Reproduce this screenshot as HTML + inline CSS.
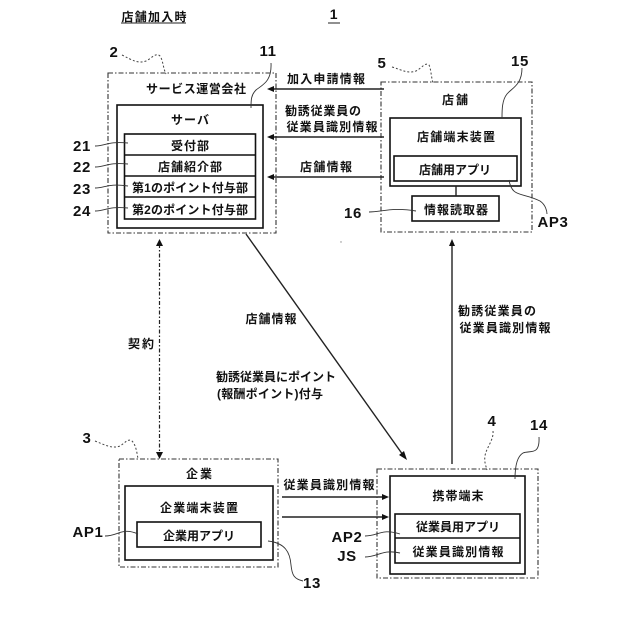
<!DOCTYPE html>
<html><head><meta charset="utf-8">
<style>
html,body{margin:0;padding:0;background:#fff}
svg{display:block}
text{font-family:"Liberation Sans","Noto Sans CJK JP",sans-serif;fill:#111}
.j{font-size:12px;font-weight:700;text-anchor:middle}
.n{font-size:15px;font-weight:700;text-anchor:middle;font-family:"Liberation Sans",sans-serif;letter-spacing:.6px}
.b{fill:none;stroke:#111;stroke-width:1.6}
.d{fill:none;stroke:#333;stroke-width:1.1;stroke-dasharray:5 2 1.5 2}
.l{fill:none;stroke:#222;stroke-width:1.4}
.c{fill:none;stroke:#333;stroke-width:.9}
.q{fill:none;stroke:#444;stroke-width:1;stroke-dasharray:2 2}
.h{fill:#111;stroke:none}
</style></head><body>
<svg width="640" height="640" viewBox="0 0 640 640" xmlns="http://www.w3.org/2000/svg">
<rect width="640" height="640" fill="#fff"/>
<text class="j" x="154" y="21" textLength="65">店舗加入時</text>
<line x1="121" y1="23" x2="186" y2="23" stroke="#222" stroke-width="1"/>
<text class="n" x="334" y="19" style="font-size:14px">1</text>
<line x1="328" y1="23" x2="340" y2="23" stroke="#222" stroke-width="1"/>

<!-- service company -->
<rect class="d" x="108" y="73" width="168" height="160"/>
<rect class="b" x="117" y="105" width="146" height="123"/>
<rect class="b" x="124.500" y="134" width="131" height="85"/>
<line class="b" x1="124" y1="155" x2="255" y2="155"/>
<line class="b" x1="124" y1="176" x2="255" y2="176"/>
<line class="b" x1="124" y1="197" x2="255" y2="197"/>
<text class="j" x="196" y="93" textLength="100">サービス運営会社</text>
<text class="j" x="190" y="124" textLength="38">サーバ</text>
<text class="j" x="190" y="150" textLength="38">受付部</text>
<text class="j" x="190" y="171" textLength="64">店舗紹介部</text>
<text class="j" x="190" y="192" textLength="116">第1のポイント付与部</text>
<text class="j" x="190" y="214" textLength="116">第2のポイント付与部</text>
<text class="n" x="114" y="57">2</text>
<text class="n" x="268" y="56">11</text>
<text class="n" x="82" y="151">21</text>
<text class="n" x="82" y="172">22</text>
<text class="n" x="82" y="194">23</text>
<text class="n" x="82" y="216">24</text>
<path class="q" d="M122 55 C132 60 138 64 146 61 C152 58 156 52 160 56 C163 60 163 68 166 74"/>
<path class="c" d="M271 63 C272 82 262 85 256 90 C251 95 251 100 251 108"/>
<path class="c" d="M95 146 C105 146 108 141 128 143"/>
<path class="c" d="M95 167 C105 167 108 162 128 164"/>
<path class="c" d="M95 188 C105 188 108 183 128 186"/>
<path class="c" d="M95 211 C105 211 108 206 128 208"/>

<!-- store -->
<rect class="d" x="381" y="82" width="151" height="150"/>
<rect class="b" x="390" y="118" width="131" height="68"/>
<rect class="b" x="394" y="156" width="123" height="25"/>
<rect class="b" x="412" y="196" width="87" height="25"/>
<line class="l" x1="456" y1="186" x2="456" y2="196"/>
<text class="j" x="455" y="104" textLength="26">店舗</text>
<text class="j" x="456" y="141" textLength="78">店舗端末装置</text>
<text class="j" x="455" y="174" textLength="72">店舗用アプリ</text>
<text class="j" x="456" y="214" textLength="64">情報読取器</text>
<text class="n" x="382" y="68">5</text>
<text class="n" x="520" y="66">15</text>
<text class="n" x="353" y="218">16</text>
<text class="n" x="553" y="227">AP3</text>
<path class="q" d="M392 67 C402 70 408 74 416 71 C422 68 425 62 429 65 C431 69 431 76 433 83"/>
<path class="c" d="M522 68 C522 85 512 88 507 94 C502 100 502 110 502 118"/>
<path class="c" d="M369 212 C382 212 392 207 416 211"/>
<path class="c" d="M509 180 C512 198 522 192 540 201 C546 205 547 212 547 214"/>

<!-- arrows to service -->
<line class="l" x1="384" y1="89" x2="272" y2="89"/>
<line class="l" x1="384" y1="137" x2="272" y2="137"/>
<line class="l" x1="384" y1="177" x2="272" y2="177"/>
<polygon class="h" points="267,89 274,86 274,92"/>
<polygon class="h" points="267,137 274,134 274,140"/>
<polygon class="h" points="267,177 274,174 274,180"/>
<text class="j" x="326" y="83" textLength="78">加入申請情報</text>
<text class="j" x="323" y="115" textLength="76">勧誘従業員の</text>
<text class="j" x="332" y="131" textLength="91">従業員識別情報</text>
<text class="j" x="326" y="171" textLength="52">店舗情報</text>

<!-- contract -->
<line x1="159.500" y1="244" x2="159.500" y2="454" stroke="#222" stroke-width="1.2" stroke-dasharray="4 2 1.500 2"/>
<polygon class="h" points="159.500,239 156,246 163,246"/>
<polygon class="h" points="159.500,459 156,452 163,452"/>
<text class="j" x="141" y="348" textLength="26">契約</text>

<!-- diagonal -->
<line class="l" x1="246" y1="234" x2="403" y2="455"/>
<polygon class="h" points="407,460 399,455 404,451"/>
<text class="j" x="271" y="323" textLength="51">店舗情報</text>
<text class="j" x="276" y="381" textLength="120">勧誘従業員にポイント</text>
<text class="j" x="270" y="398" textLength="106">(報酬ポイント)付与</text>

<!-- vertical -->
<line class="l" x1="452" y1="244" x2="452" y2="464"/>
<polygon class="h" points="452,239 449,246 455,246"/>
<text class="j" x="497" y="315" textLength="78">勧誘従業員の</text>
<text class="j" x="505" y="332" textLength="91">従業員識別情報</text>

<!-- company -->
<rect class="d" x="119" y="459" width="159" height="108"/>
<rect class="b" x="125" y="486" width="148" height="74"/>
<rect class="b" x="137" y="522" width="124" height="25"/>
<text class="j" x="199" y="478" textLength="26">企業</text>
<text class="j" x="199" y="512" textLength="78">企業端末装置</text>
<text class="j" x="199" y="540" textLength="72">企業用アプリ</text>
<text class="n" x="87" y="443">3</text>
<text class="n" x="88" y="537">AP1</text>
<text class="n" x="312" y="588">13</text>
<path class="q" d="M95 441 C105 445 112 449 120 446 C125 443 128 438 132 441 C136 445 137 453 138 459"/>
<path class="c" d="M105 536 C118 536 122 527 138 534"/>
<path class="c" d="M268 541 C285 543 290 552 291 565 C292 575 294 579 303 581"/>

<!-- employee arrows -->
<line class="l" x1="282" y1="497" x2="383" y2="497"/>
<line class="l" x1="282" y1="517" x2="383" y2="517"/>
<polygon class="h" points="389,497 382,494 382,500"/>
<polygon class="h" points="389,517 382,514 382,520"/>
<text class="j" x="329" y="489" textLength="91">従業員識別情報</text>

<!-- mobile -->
<rect class="d" x="377" y="469" width="161" height="109"/>
<rect class="b" x="390" y="476" width="135" height="98"/>
<rect class="b" x="395" y="514" width="125" height="49"/>
<line class="b" x1="395" y1="538" x2="520" y2="538"/>
<text class="j" x="458" y="500" textLength="51">携帯端末</text>
<text class="j" x="458" y="531" textLength="84">従業員用アプリ</text>
<text class="j" x="458" y="556" textLength="91">従業員識別情報</text>
<text class="n" x="492" y="426">4</text>
<text class="n" x="539" y="430">14</text>
<text class="n" x="347" y="542">AP2</text>
<text class="n" x="347" y="561">JS</text>
<path class="q" d="M493 431 C494 440 486 448 485 456 C484 462 486 466 487 470"/>
<path class="c" d="M539 437 C540 456 530 450 523 453 C516 457 515 470 515 479"/>
<path class="c" d="M365 536 C378 536 382 528 400 534"/>
<path class="c" d="M365 557 C378 557 382 549 400 553"/>

<circle cx="341" cy="242" r=".7" fill="#888"/>
</svg>
</body></html>
